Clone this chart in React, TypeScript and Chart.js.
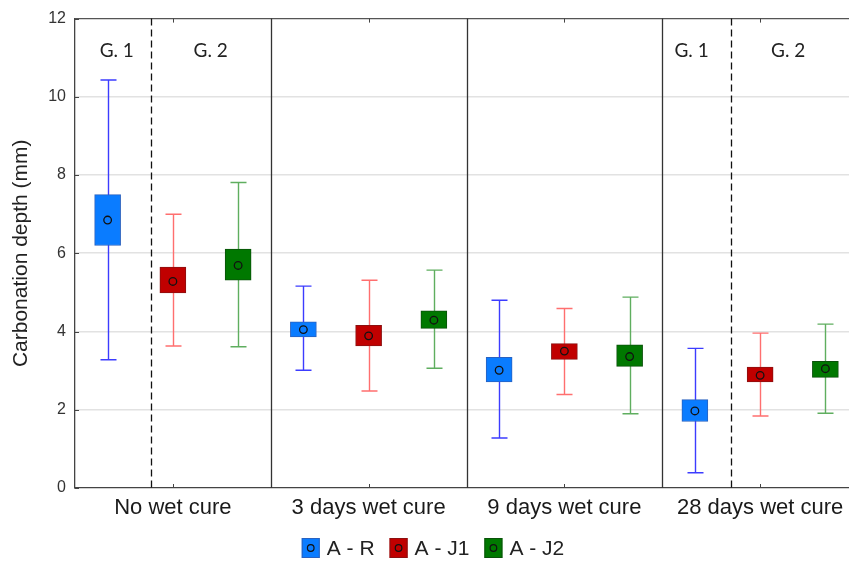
import React, { useEffect, useRef } from 'react';
import { Chart, registerables } from 'chart.js';

Chart.register(...registerables);

const categories = ['No wet cure', '3 days wet cure', '9 days wet cure', '28 days wet cure'];
const seriesNames = ['A - R', 'A - J1', 'A - J2'];
const boxColors = ['#0a7cff', '#c00000', '#007800'];
const boxBorders = ['#2a62c0', '#8c1010', '#0a520a'];
const whiskerColors = ['#3c3cff', '#ff6f6f', '#5fae5f'];

// A - R
const whiskerLowAR = [3.28, 3.01, 1.28, 0.39];
const boxLowAR = [6.2, 3.86, 2.71, 1.7];
const meanAR = [6.85, 4.05, 3.01, 1.97];
const boxHighAR = [7.5, 4.25, 3.34, 2.26];
const whiskerHighAR = [10.43, 5.16, 4.8, 3.57];

// A - J1
const whiskerLowJ1 = [3.63, 2.48, 2.39, 1.84];
const boxLowJ1 = [4.99, 3.63, 3.29, 2.71];
const meanJ1 = [5.28, 3.89, 3.5, 2.88];
const boxHighJ1 = [5.65, 4.16, 3.69, 3.09];
const whiskerHighJ1 = [7.0, 5.31, 4.59, 3.96];

// A - J2
const whiskerLowJ2 = [3.61, 3.06, 1.9, 1.91];
const boxLowJ2 = [5.31, 4.08, 3.11, 2.83];
const meanJ2 = [5.69, 4.29, 3.36, 3.05];
const boxHighJ2 = [6.11, 4.53, 3.66, 3.24];
const whiskerHighJ2 = [7.81, 5.57, 4.88, 4.19];

const yTicks = [0, 2, 4, 6, 8, 10, 12];
const cureDividers = [2.5, 5.5, 8.5];
const groupDividers = [0.67, 9.56];
const gLabels = ['G. 1', 'G. 2', 'G. 1', 'G. 2'];
const gLabelPos = [0.14, 1.58, 8.95, 10.43];

const series = [
  { wl: whiskerLowAR, bl: boxLowAR, m: meanAR, bh: boxHighAR, wh: whiskerHighAR },
  { wl: whiskerLowJ1, bl: boxLowJ1, m: meanJ1, bh: boxHighJ1, wh: whiskerHighJ1 },
  { wl: whiskerLowJ2, bl: boxLowJ2, m: meanJ2, bh: boxHighJ2, wh: whiskerHighJ2 },
];

const FONT = "'Liberation Sans', Arial, sans-serif";

const overlay = {
  id: 'overlay',
  beforeDatasetsDraw(chart: any) {
    const { ctx, chartArea: a, scales } = chart;
    const x = scales.x;
    const y = scales.y;
    ctx.save();
    // top border
    ctx.strokeStyle = '#555';
    ctx.lineWidth = 1.3;
    ctx.beginPath();
    ctx.moveTo(a.left, a.top);
    ctx.lineTo(a.right, a.top);
    ctx.stroke();
    // solid dividers
    ctx.strokeStyle = '#333';
    ctx.lineWidth = 1.3;
    cureDividers.forEach((v) => {
      const px = Math.round(x.getPixelForValue(v)) + 0.5;
      ctx.beginPath();
      ctx.moveTo(px, a.top);
      ctx.lineTo(px, a.bottom);
      ctx.stroke();
    });
    // dashed dividers
    ctx.strokeStyle = '#111';
    ctx.setLineDash([7, 4]);
    groupDividers.forEach((v) => {
      const px = Math.round(x.getPixelForValue(v)) + 0.5;
      ctx.beginPath();
      ctx.moveTo(px, a.top);
      ctx.lineTo(px, a.bottom);
      ctx.stroke();
    });
    ctx.setLineDash([]);
    // inward tick marks
    ctx.strokeStyle = '#444';
    ctx.lineWidth = 1;
    x.ticks.forEach((t: any) => {
      const px = Math.round(x.getPixelForValue(t.value)) + 0.5;
      ctx.beginPath();
      ctx.moveTo(px, a.bottom);
      ctx.lineTo(px, a.bottom - 4);
      ctx.moveTo(px, a.top);
      ctx.lineTo(px, a.top + 4);
      ctx.stroke();
    });
    y.ticks.forEach((t: any) => {
      const py = Math.round(y.getPixelForValue(t.value)) + 0.5;
      ctx.beginPath();
      ctx.moveTo(a.left, py);
      ctx.lineTo(a.left + 4, py);
      ctx.stroke();
    });
    // whiskers
    ctx.lineWidth = 1.4;
    series.forEach((s, si) => {
      ctx.strokeStyle = whiskerColors[si];
      categories.forEach((_, g) => {
        const px = Math.round(x.getPixelForValue(g * 3 + si)) + 0.5;
        const y1 = y.getPixelForValue(s.wl[g]);
        const y2 = y.getPixelForValue(s.wh[g]);
        ctx.beginPath();
        ctx.moveTo(px, y1);
        ctx.lineTo(px, y2);
        ctx.moveTo(px - 8, y1);
        ctx.lineTo(px + 8, y1);
        ctx.moveTo(px - 8, y2);
        ctx.lineTo(px + 8, y2);
        ctx.stroke();
      });
    });
    // G labels
    ctx.fillStyle = '#222';
    ctx.font = "19px Lato, 'Open Sans', sans-serif";
    ctx.textAlign = 'center';
    ctx.textBaseline = 'middle';
    gLabels.forEach((lbl, i) => {
      ctx.fillText(lbl, x.getPixelForValue(gLabelPos[i]), a.top + 32);
    });
    ctx.restore();
  },
  afterDraw(chart: any) {
    const { ctx } = chart;
    ctx.save();
    ctx.font = `21px ${FONT}`;
    const bw = 18;
    const bh = 20;
    const gapText = 7;
    const gapItem = 15;
    const widths = seriesNames.map((n) => ctx.measureText(n).width);
    const total =
      widths.reduce((acc, w) => acc + bw + gapText + w, 0) + gapItem * (seriesNames.length - 1);
    let cx = chart.width / 2 - total / 2;
    const cy = 548;
    seriesNames.forEach((name, i) => {
      ctx.fillStyle = boxColors[i];
      ctx.fillRect(cx, cy - bh / 2, bw, bh);
      ctx.strokeStyle = boxBorders[i];
      ctx.lineWidth = 1;
      ctx.strokeRect(cx + 0.5, cy - bh / 2 + 0.5, bw - 1, bh - 1);
      ctx.beginPath();
      ctx.arc(cx + bw / 2, cy, 3.3, 0, Math.PI * 2);
      ctx.strokeStyle = '#111';
      ctx.lineWidth = 1.2;
      ctx.stroke();
      ctx.fillStyle = '#222';
      ctx.textAlign = 'left';
      ctx.textBaseline = 'middle';
      ctx.fillText(name, cx + bw + gapText, cy + 1);
      cx += bw + gapText + widths[i] + gapItem;
    });
    ctx.restore();
  },
};

export default function App() {
  const ref = useRef<HTMLCanvasElement | null>(null);
  useEffect(() => {
    if (!ref.current) return;
    const barSets = series.map((s, si) => ({
      type: 'bar' as const,
      label: seriesNames[si],
      data: categories.map((_, g) => ({ x: g * 3 + si, y: [s.bl[g], s.bh[g]] })),
      backgroundColor: boxColors[si],
      borderColor: boxBorders[si],
      borderWidth: 1,
      borderSkipped: false,
      barThickness: 26,
      grouped: false,
      order: 2,
    }));
    const meanSets = series.map((s, si) => ({
      type: 'scatter' as const,
      label: seriesNames[si] + ' mean',
      data: categories.map((_, g) => ({ x: g * 3 + si, y: s.m[g] })),
      pointRadius: 3.8,
      pointBorderColor: '#111',
      pointBackgroundColor: 'rgba(0,0,0,0)',
      pointBorderWidth: 1.3,
      showLine: false,
      order: 0,
    }));
    const chart = new Chart(ref.current, {
      type: 'bar',
      data: { datasets: [...meanSets, ...barSets] as any },
      options: {
        animation: false,
        responsive: true,
        maintainAspectRatio: false,
        events: [],
        layout: { padding: { top: 18, right: 8, left: 0, bottom: 28 } },
        plugins: { legend: { display: false }, tooltip: { enabled: false } },
        scales: {
          x: {
            type: 'linear',
            min: -0.5,
            max: 11.5,
            offset: false,
            afterBuildTicks: (scale: any) => {
              scale.ticks = categories.map((_, g) => ({ value: g * 3 + 1 }));
            },
            afterFit: (scale: any) => {
              scale.height = 45;
            },
            ticks: {
              autoSkip: false,
              maxRotation: 0,
              padding: 7,
              color: '#1a1a1a',
              font: { family: FONT, size: 22 },
              callback: (v: any) => categories[Math.round((Number(v) - 1) / 3)] ?? '',
            },
            grid: { display: false, drawTicks: false },
            border: { display: true, color: '#444', width: 1.3 },
          },
          y: {
            type: 'linear',
            min: 0,
            max: 12,
            afterBuildTicks: (scale: any) => {
              scale.ticks = yTicks.map((v) => ({ value: v }));
            },
            afterFit: (scale: any) => {
              scale.width = 75;
            },
            ticks: {
              padding: 9,
              color: '#333',
              font: { family: FONT, size: 16 },
            },
            grid: {
              drawTicks: false,
              color: (c: any) =>
                c.tick && (c.tick.value === 0 || c.tick.value === 12) ? 'rgba(0,0,0,0)' : '#e2e2e2',
              lineWidth: 1.6,
            },
            border: { display: true, color: '#444', width: 1.3 },
            title: {
              display: true,
              text: 'Carbonation depth (mm)',
              color: '#222',
              font: { family: FONT, size: 21 },
              padding: { top: 9, bottom: 0 },
            },
          },
        },
      },
      plugins: [overlay],
    } as any);
    return () => chart.destroy();
  }, []);
  return (
    <div
      style={{
        position: 'fixed',
        left: 0,
        top: 0,
        width: 849,
        height: 561,
        overflow: 'hidden',
        background: '#fff',
      }}
    >
      <div style={{ position: 'relative', width: 866, height: 561 }}>
        <canvas ref={ref} />
      </div>
    </div>
  );
}
